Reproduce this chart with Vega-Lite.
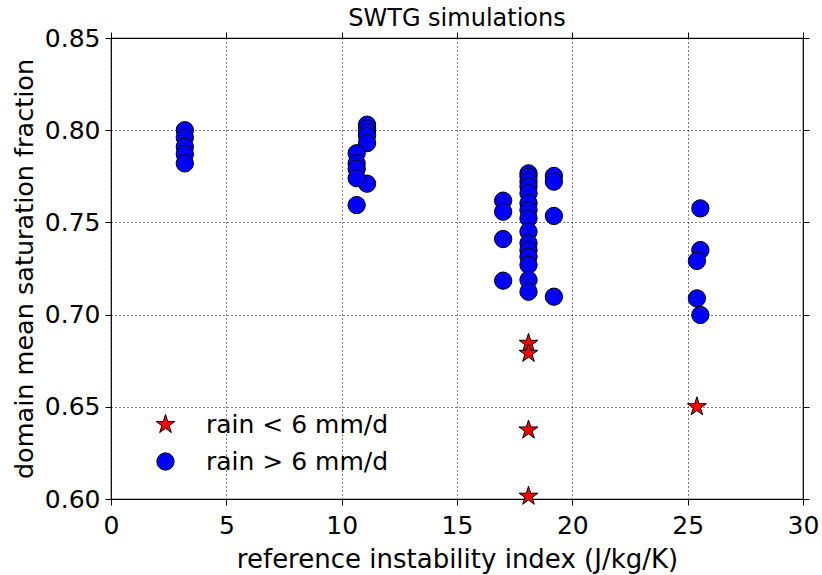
{
  "$schema": "https://vega.github.io/schema/vega-lite/v6.json",
  "width": 692,
  "height": 461,
  "padding": {"left": 12, "top": 7, "right": 5, "bottom": 5},
  "background": "white",
  "title": {"text": "SWTG simulations", "font": "DejaVu Sans", "fontSize": 24, "fontWeight": "normal", "color": "black", "offset": -5},
  "config": {
    "view": {"stroke": "black", "strokeWidth": 1.2},
    "font": "DejaVu Sans",
    "axis": {
      "labelFont": "DejaVu Sans", "labelFontSize": 25, "labelColor": "black", "labelFlush": false, "labelOverlap": false,
      "titleFont": "DejaVu Sans", "titleFontSize": 25.5, "titleFontWeight": "normal", "titleColor": "black",
      "domain": false, "tickColor": "black", "tickSize": 6, "tickWidth": 1, "labelPadding": 5,
      "grid": true, "gridColor": "black", "gridDash": [1, 3], "gridOpacity": 1, "gridWidth": 1
    }
  },
  "resolve": {"axis": {"x": "independent", "y": "independent"}},
  "data": {"values": [
    {"x": 3.2, "y": 0.800, "rain": "rain > 6 mm/d"},
    {"x": 3.2, "y": 0.796, "rain": "rain > 6 mm/d"},
    {"x": 3.2, "y": 0.791, "rain": "rain > 6 mm/d"},
    {"x": 3.2, "y": 0.787, "rain": "rain > 6 mm/d"},
    {"x": 3.2, "y": 0.782, "rain": "rain > 6 mm/d"},
    {"x": 11.1, "y": 0.803, "rain": "rain > 6 mm/d"},
    {"x": 11.1, "y": 0.801, "rain": "rain > 6 mm/d"},
    {"x": 11.1, "y": 0.799, "rain": "rain > 6 mm/d"},
    {"x": 11.1, "y": 0.797, "rain": "rain > 6 mm/d"},
    {"x": 11.1, "y": 0.793, "rain": "rain > 6 mm/d"},
    {"x": 11.1, "y": 0.771, "rain": "rain > 6 mm/d"},
    {"x": 10.65, "y": 0.7875, "rain": "rain > 6 mm/d"},
    {"x": 10.65, "y": 0.782, "rain": "rain > 6 mm/d"},
    {"x": 10.65, "y": 0.779, "rain": "rain > 6 mm/d"},
    {"x": 10.65, "y": 0.774, "rain": "rain > 6 mm/d"},
    {"x": 10.65, "y": 0.7594, "rain": "rain > 6 mm/d"},
    {"x": 17.0, "y": 0.7618, "rain": "rain > 6 mm/d"},
    {"x": 17.0, "y": 0.7558, "rain": "rain > 6 mm/d"},
    {"x": 17.0, "y": 0.741, "rain": "rain > 6 mm/d"},
    {"x": 17.0, "y": 0.7184, "rain": "rain > 6 mm/d"},
    {"x": 19.2, "y": 0.7752, "rain": "rain > 6 mm/d"},
    {"x": 19.2, "y": 0.7721, "rain": "rain > 6 mm/d"},
    {"x": 19.2, "y": 0.7535, "rain": "rain > 6 mm/d"},
    {"x": 19.2, "y": 0.7097, "rain": "rain > 6 mm/d"},
    {"x": 18.1, "y": 0.7766, "rain": "rain > 6 mm/d"},
    {"x": 18.1, "y": 0.7748, "rain": "rain > 6 mm/d"},
    {"x": 18.1, "y": 0.7721, "rain": "rain > 6 mm/d"},
    {"x": 18.1, "y": 0.7694, "rain": "rain > 6 mm/d"},
    {"x": 18.1, "y": 0.7658, "rain": "rain > 6 mm/d"},
    {"x": 18.1, "y": 0.7604, "rain": "rain > 6 mm/d"},
    {"x": 18.1, "y": 0.7567, "rain": "rain > 6 mm/d"},
    {"x": 18.1, "y": 0.7522, "rain": "rain > 6 mm/d"},
    {"x": 18.1, "y": 0.745, "rain": "rain > 6 mm/d"},
    {"x": 18.1, "y": 0.7387, "rain": "rain > 6 mm/d"},
    {"x": 18.1, "y": 0.735, "rain": "rain > 6 mm/d"},
    {"x": 18.1, "y": 0.7314, "rain": "rain > 6 mm/d"},
    {"x": 18.1, "y": 0.7269, "rain": "rain > 6 mm/d"},
    {"x": 18.1, "y": 0.7188, "rain": "rain > 6 mm/d"},
    {"x": 18.1, "y": 0.7124, "rain": "rain > 6 mm/d"},
    {"x": 25.55, "y": 0.7576, "rain": "rain > 6 mm/d"},
    {"x": 25.55, "y": 0.735, "rain": "rain > 6 mm/d"},
    {"x": 25.4, "y": 0.7291, "rain": "rain > 6 mm/d"},
    {"x": 25.4, "y": 0.7088, "rain": "rain > 6 mm/d"},
    {"x": 25.55, "y": 0.6998, "rain": "rain > 6 mm/d"},
    {"x": 18.1, "y": 0.6844, "rain": "rain < 6 mm/d"},
    {"x": 18.1, "y": 0.679, "rain": "rain < 6 mm/d"},
    {"x": 18.1, "y": 0.6374, "rain": "rain < 6 mm/d"},
    {"x": 18.1, "y": 0.6015, "rain": "rain < 6 mm/d"},
    {"x": 25.4, "y": 0.650, "rain": "rain < 6 mm/d"}
  ]},
  "layer": [
    {
      "mark": {"type": "point", "filled": true, "opacity": 1, "stroke": "black", "strokeWidth": 1, "size": 300, "clip": false},
      "encoding": {
        "x": {"field": "x", "type": "quantitative", "scale": {"domain": [0, 30], "nice": false, "zero": false},
              "axis": {"orient": "bottom", "title": "reference instability index (J/kg/K)", "titleFontSize": 26, "values": [0, 5, 10, 15, 20, 25, 30], "labelPadding": 8, "titlePadding": 8}},
        "y": {"field": "y", "type": "quantitative", "scale": {"domain": [0.6, 0.85], "nice": false, "zero": false},
              "axis": {"orient": "left", "title": "domain mean saturation fraction", "values": [0.6, 0.65, 0.7, 0.75, 0.8, 0.85], "format": ".2f", "titlePadding": 7}},
        "color": {"field": "rain", "type": "nominal",
                  "scale": {"domain": ["rain < 6 mm/d", "rain > 6 mm/d"], "range": ["#ff0000", "#0000ff"]},
                  "legend": {"title": null, "orient": "none", "legendX": 42, "legendY": 374, "labelFontSize": 25, "labelFont": "DejaVu Sans", "labelColor": "black", "labelLimit": 500, "symbolSize": 300, "symbolStrokeColor": "black", "symbolStrokeWidth": 1, "symbolOpacity": 1, "labelOffset": 28, "rowPadding": 11, "padding": 0}},
        "shape": {"field": "rain", "type": "nominal",
                  "scale": {"domain": ["rain < 6 mm/d", "rain > 6 mm/d"], "range": ["M0,-1.15L0.258,-0.355L1.094,-0.355L0.417,0.136L0.676,0.93L0,0.439L-0.676,0.93L-0.417,0.136L-1.094,-0.355L-0.258,-0.355Z", "circle"]}}
      }
    },
    {
      "mark": {"type": "point", "opacity": 0},
      "encoding": {
        "x": {"field": "x", "type": "quantitative", "axis": {"orient": "top", "labels": false, "title": null, "grid": false, "values": [0, 5, 10, 15, 20, 25, 30]}},
        "y": {"field": "y", "type": "quantitative", "axis": {"orient": "right", "labels": false, "title": null, "grid": false, "values": [0.6, 0.65, 0.7, 0.75, 0.8, 0.85]}}
      }
    }
  ]
}
